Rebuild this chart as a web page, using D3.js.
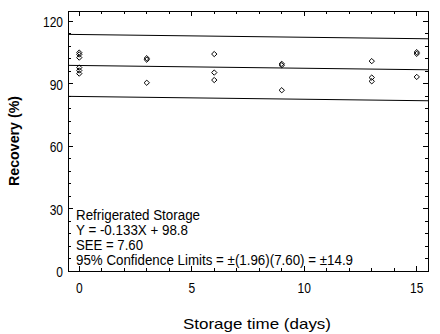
<!DOCTYPE html>
<html>
<head>
<meta charset="utf-8">
<script src="https://cdn.jsdelivr.net/npm/d3@7"></script>
<style>
  body { margin: 0; background: #fff; }
  text { font-family: "Liberation Sans", Arial, sans-serif; fill: #000; }
</style>
</head>
<body>
<svg></svg>
<script>
'use strict';

// data
var days = [0, 0, 0, 0, 0, 0, 3, 3, 3, 6, 6, 6, 9, 9, 9, 13, 13, 13, 15, 15, 15];
var recovery = [105.0, 104.1, 102.6, 97.8, 96.4, 94.9,
                102.3, 101.6, 90.5,
                104.3, 95.4, 91.8,
                99.6, 98.9, 86.9,
                100.9, 93.0, 91.2,
                105.2, 104.4, 93.3];
var slope = -0.133;
var intercept = 98.8;
var limit = 14.9;
var xTicks = [0, 5, 10, 15];
var yTicks = [0, 30, 60, 90, 120];
var notes = ['Refrigerated Storage', 'Y = -0.133X + 98.8', 'SEE = 7.60',
             '95% Confidence Limits = \u00b1(1.96)(7.60) = \u00b114.9'];

var SVG_SIZE = { width: 440, height: 334 };
var MARGIN = { left: 68, top: 11, right: 12, bottom: 63 };
var plotW = SVG_SIZE.width - MARGIN.left - MARGIN.right;
var plotH = SVG_SIZE.height - MARGIN.top - MARGIN.bottom;

var svg = d3.select('svg')
    .attr('width', SVG_SIZE.width).attr('height', SVG_SIZE.height);

var xScale = d3.scaleLinear().domain([-0.5, 15.5]).range([0, plotW]);
var yScale = d3.scaleLinear().domain([0, 125]).range([plotH, 0]);

var plot = svg.append('g')
    .attr('transform', 'translate(' + MARGIN.left + ',' + MARGIN.top + ')');

// squeeze text a bit, the original font is narrow
function squeeze(sel, k) {
    sel.each(function () {
        var w = this.getComputedTextLength();
        d3.select(this).attr('textLength', w * k).attr('lengthAdjust', 'spacingAndGlyphs');
    });
}

// inward ticks on all four sides
var xMinor = d3.range(0, 16);
var yMinor = d3.range(0, 126, 6);
var ticks = plot.append('g').attr('stroke', '#000').attr('shape-rendering', 'crispEdges');
xMinor.forEach(function (v) {
    var len = xTicks.indexOf(v) >= 0 ? 5 : 3;
    ticks.append('line').attr('x1', xScale(v)).attr('x2', xScale(v)).attr('y1', plotH).attr('y2', plotH - len);
    ticks.append('line').attr('x1', xScale(v)).attr('x2', xScale(v)).attr('y1', 0).attr('y2', len);
});
yMinor.forEach(function (v) {
    var len = yTicks.indexOf(v) >= 0 ? 5 : 3;
    ticks.append('line').attr('y1', yScale(v)).attr('y2', yScale(v)).attr('x1', 0).attr('x2', len);
    ticks.append('line').attr('y1', yScale(v)).attr('y2', yScale(v)).attr('x1', plotW).attr('x2', plotW - len);
});

// frame
plot.append('rect')
    .attr('width', plotW).attr('height', plotH)
    .attr('fill', 'none').attr('stroke', '#000').attr('shape-rendering', 'crispEdges');

// tick labels
var yLab = plot.selectAll('.ylab').data(yTicks).enter().append('text')
    .attr('class', 'ylab')
    .attr('x', -5).attr('y', function (d) { return yScale(d) + 6; })
    .attr('text-anchor', 'end').style('font-size', '15px')
    .text(function (d) { return d; });
squeeze(yLab, 0.8);

var xLab = plot.selectAll('.xlab').data(xTicks).enter().append('text')
    .attr('class', 'xlab')
    .attr('x', function (d) { return xScale(d); }).attr('y', plotH + 22)
    .attr('text-anchor', 'middle').style('font-size', '15px')
    .text(function (d) { return d; });
squeeze(xLab, 0.8);

// regression line and 95% limits
var xs = xScale.domain();
[0, limit, -limit].forEach(function (off) {
    plot.append('line')
        .attr('x1', xScale(xs[0])).attr('y1', yScale(intercept + slope * xs[0] + off))
        .attr('x2', xScale(xs[1])).attr('y2', yScale(intercept + slope * xs[1] + off))
        .attr('stroke', '#000').attr('stroke-width', 1);
});

// points
var diamond = d3.symbolDiamond2 || d3.symbolDiamond;
var sym = d3.symbol().type(diamond).size(18);
plot.selectAll('.pt').data(days).enter().append('path')
    .attr('class', 'pt')
    .attr('d', sym)
    .attr('transform', function (d, i) { return 'translate(' + xScale(d) + ',' + yScale(recovery[i]) + ')'; })
    .attr('fill', 'none').attr('stroke', '#000').attr('stroke-width', 1);

// annotation
var noteW = [124, 112, 67, 277];
plot.selectAll('.note').data(notes).enter().append('text')
    .attr('class', 'note')
    .attr('x', 8).attr('y', function (d, i) { return 209 + i * 15; })
    .style('font-size', '14px')
    .attr('textLength', function (d, i) { return noteW[i]; })
    .attr('lengthAdjust', 'spacingAndGlyphs')
    .text(function (d) { return d; });

// axis titles
svg.append('text')
    .attr('x', 257).attr('y', 329)
    .attr('text-anchor', 'middle').style('font-size', '15px')
    .attr('textLength', 148).attr('lengthAdjust', 'spacingAndGlyphs')
    .text('Storage time (days)');

svg.append('text')
    .attr('transform', 'translate(19,141) rotate(-90)')
    .attr('text-anchor', 'middle').style('font-size', '15px').style('font-weight', 'bold')
    .attr('textLength', 90).attr('lengthAdjust', 'spacingAndGlyphs')
    .text('Recovery (%)');
</script>
</body>
</html>
